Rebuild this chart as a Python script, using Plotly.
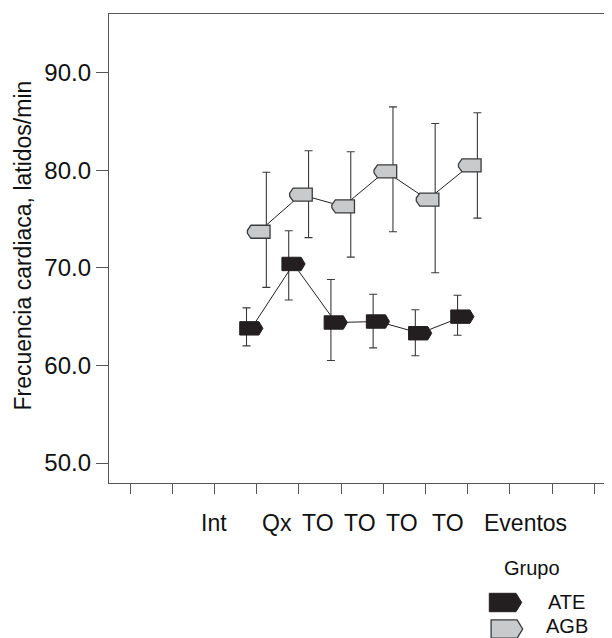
import plotly.graph_objects as go

# ---------------- data ----------------
groups = ["ATE", "AGB"]
time_points = ["Int", "Qx", "TO1", "TO2", "TO3", "TO4"]
x_tick_labels = ["Int", "Qx", "TO", "TO", "TO", "TO", "Eventos"]
y_tick_values = [50, 60, 70, 80, 90]

ate_mean = [63.8, 70.4, 64.4, 64.5, 63.3, 65.0]
ate_upper = [65.9, 73.8, 68.8, 67.3, 65.7, 67.2]
ate_lower = [62.0, 66.7, 60.5, 61.8, 61.0, 63.1]

agb_mean = [73.7, 77.5, 76.3, 79.9, 77.0, 80.5]
agb_upper = [79.8, 82.0, 81.9, 86.5, 84.8, 85.9]
agb_lower = [68.0, 73.1, 71.1, 73.7, 69.5, 75.1]

y_title = "Frecuencia cardiaca, latidos/min"
legend_title = "Grupo"

# ---------------- layout helpers ----------------
OFF = 8  # default page body margin
W, H = 612 - OFF, 638 - OFF
PLOT_L, PLOT_T, PLOT_B = 109, 14, 483   # page pixels
ML, MR, MT, MB = PLOT_L - OFF, 0, PLOT_T - OFF, H - (PLOT_B - OFF)
PW, PH = W - ML - MR, H - MT - MB
FONT = "Liberation Sans, Arial, sans-serif"

first_slot = 3
slots = [first_slot + i for i in range(len(time_points))]
n_slots = 12
slot_px0, slot_step = 130, 42.21

def px_to_paper_x(px):
    return (px - PLOT_L) / PW

def px_to_paper_y(py):
    return (PLOT_B - py) / PH

ate_color = "#231f20"
agb_color = "#c9cacc"
edge_color = "#3a3a3a"
axis_color = "#555555"

fig = go.Figure()

def add_group(mean, upper, lower, eb_off, mk_off):
    xe = [s + eb_off for s in slots]
    xm = [s + mk_off for s in slots]
    fig.add_trace(go.Scatter(
        x=xe, y=mean, mode="markers",
        marker=dict(size=1, color="rgba(0,0,0,0)"),
        error_y=dict(type="data", symmetric=False,
                     array=[u - m for u, m in zip(upper, mean)],
                     arrayminus=[m - l for m, l in zip(mean, lower)],
                     color="#3a3a3a", thickness=1.1, width=4),
        showlegend=False, hoverinfo="skip"))
    fig.add_trace(go.Scatter(
        x=xm, y=mean, mode="lines",
        line=dict(color="#222222", width=1),
        showlegend=False))
    return xm

ate_xm = add_group(ate_mean, ate_upper, ate_lower, -0.24, -0.126)
agb_xm = add_group(agb_mean, agb_upper, agb_lower, 0.23, 0.05)

ate_path = "M-11.6,-6.7 L7.6,-6.7 L11.6,0 L7.6,6.7 L-11.6,6.7 Z"
agb_path = "M11.3,-6.5 L-7.8,-6.5 L-11.3,-1.5 L-11.3,1.5 L-7.8,6.5 L11.3,6.5 Z"

shapes = []
for x, y in zip(ate_xm, ate_mean):
    shapes.append(dict(type="path", xref="x", yref="y",
                       xsizemode="pixel", ysizemode="pixel",
                       xanchor=x, yanchor=y, path=ate_path,
                       fillcolor=ate_color, line=dict(color=ate_color, width=1),
                       layer="above"))
for x, y in zip(agb_xm, agb_mean):
    shapes.append(dict(type="path", xref="x", yref="y",
                       xsizemode="pixel", ysizemode="pixel",
                       xanchor=x, yanchor=y, path=agb_path,
                       fillcolor=agb_color, line=dict(color=edge_color, width=1.3),
                       layer="above"))

# legend symbols (manual)
leg_ate_path = "M-16.2,-9.2 L10.5,-9.2 L16.2,0 L10.5,9.2 L-16.2,9.2 Z"
leg_agb_path = "M-15.8,-9.2 L10.2,-9.2 L15.8,0 L10.2,9.2 L-15.8,9.2 Z"
shapes.append(dict(type="path", xref="paper", yref="paper",
                   xsizemode="pixel", ysizemode="pixel",
                   xanchor=px_to_paper_x(505.5), yanchor=px_to_paper_y(602.5),
                   path=leg_ate_path, fillcolor=ate_color,
                   line=dict(color=ate_color, width=1)))
shapes.append(dict(type="path", xref="paper", yref="paper",
                   xsizemode="pixel", ysizemode="pixel",
                   xanchor=px_to_paper_x(506.9), yanchor=px_to_paper_y(629.0),
                   path=leg_agb_path, fillcolor=agb_color,
                   line=dict(color=edge_color, width=1.3)))

annotations = []
label_slots = [2.0, 3.475, 4.45, 5.45, 6.44, 7.53, 9.38]
for lab, xs in zip(x_tick_labels, label_slots):
    annotations.append(dict(x=xs, y=px_to_paper_y(523), xref="x", yref="paper",
                            text=lab, showarrow=False, xanchor="center", yanchor="middle",
                            font=dict(family=FONT, size=23, color="#111111")))
annotations.append(dict(x=px_to_paper_x(23), y=px_to_paper_y(245.5), xref="paper", yref="paper",
                        text=y_title, textangle=-90, showarrow=False,
                        xanchor="center", yanchor="middle",
                        font=dict(family=FONT, size=23, color="#111111")))
annotations.append(dict(x=px_to_paper_x(531.7), y=px_to_paper_y(568), xref="paper", yref="paper",
                        text=legend_title, showarrow=False, xanchor="center", yanchor="middle",
                        font=dict(family=FONT, size=20, color="#111111")))
for g, py in zip(groups, [602.3, 626.0]):
    annotations.append(dict(x=px_to_paper_x(566.5), y=px_to_paper_y(py), xref="paper", yref="paper",
                            text=g, showarrow=False, xanchor="center", yanchor="middle",
                            font=dict(family=FONT, size=20, color="#111111")))

x0 = (PLOT_L - slot_px0) / slot_step
x1 = (612 - slot_px0) / slot_step
fig.update_layout(
    width=W, height=H,
    margin=dict(l=ML, r=MR, t=MT, b=MB, pad=0),
    paper_bgcolor="white", plot_bgcolor="white",
    showlegend=False,
    shapes=shapes, annotations=annotations,
    xaxis=dict(range=[x0, x1], tickvals=list(range(n_slots)), ticktext=[""] * n_slots,
               ticks="outside", ticklen=10, tickcolor=axis_color, tickwidth=1.2,
               showline=True, linecolor=axis_color, linewidth=1.3, mirror=True,
               showgrid=False, zeroline=False, automargin=False),
    yaxis=dict(range=[47.95, 96.02], tickvals=y_tick_values,
               ticktext=[f"{v:.1f}" for v in y_tick_values],
               ticks="outside", ticklen=12, tickcolor=axis_color, tickwidth=1.2,
               showline=True, linecolor=axis_color, linewidth=1.3,
               showgrid=False, zeroline=False, automargin=False,
               tickfont=dict(family=FONT, size=24, color="#111111")),
)

fig.write_html("out.html")
